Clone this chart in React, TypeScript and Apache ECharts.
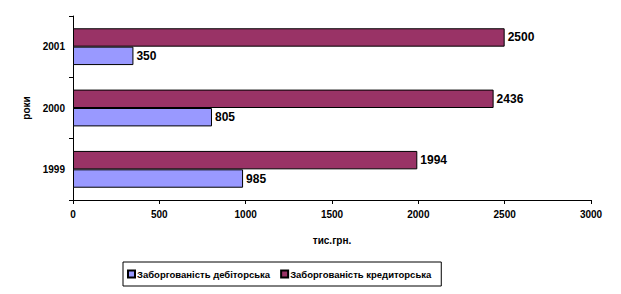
import React, { useEffect, useRef } from "react";
import * as echarts from "echarts";

const categories = ["1999", "2000", "2001"];
const debtReceivable = [985, 805, 350];
const debtPayable = [1994, 2436, 2500];
const seriesNames = ["Заборгованість дебіторська", "Заборгованість кредиторська"];
const xTicks = { min: 0, max: 3000, interval: 500 };

export default function App() {
  const ref = useRef<HTMLDivElement>(null);
  useEffect(() => {
    if (!ref.current) return;
    const chart = echarts.init(ref.current, null, { renderer: "svg" });
    const font = "'Liberation Sans', Arial, sans-serif";
    const label = {
      show: true,
      position: "right" as const,
      distance: 3,
      color: "#000",
      fontWeight: "bold" as const,
      fontSize: 12,
      fontFamily: font,
    };
    chart.setOption({
      animation: false,
      backgroundColor: "#fff",
      textStyle: { fontFamily: font },
      grid: { left: 73, right: 30, top: 16, bottom: 94, containLabel: false },
      xAxis: {
        type: "value",
        min: xTicks.min,
        max: xTicks.max,
        interval: xTicks.interval,
        name: "тис.грн.",
        nameLocation: "middle",
        nameGap: 35,
        nameTextStyle: { color: "#000", fontWeight: "bold", fontSize: 10, fontFamily: font },
        axisLine: { show: true, lineStyle: { color: "#000", width: 1 } },
        axisTick: { show: true, length: 4, inside: false, lineStyle: { color: "#000" } },
        axisLabel: {
          color: "#000",
          fontWeight: "bold",
          fontSize: 10,
          margin: 9,
          fontFamily: font,
          formatter: (v: number) => String(v),
        },
        splitLine: { show: false },
      },
      yAxis: {
        type: "category",
        data: categories,
        name: "роки",
        nameLocation: "middle",
        nameGap: 40,
        nameRotate: 90,
        nameTextStyle: { color: "#000", fontWeight: "bold", fontSize: 10, fontFamily: font },
        axisLine: { show: true, lineStyle: { color: "#000", width: 1 } },
        axisTick: { show: true, length: 4, inside: false, lineStyle: { color: "#000" } },
        axisLabel: { color: "#000", fontWeight: "bold", fontSize: 10, margin: 8, fontFamily: font },
        splitLine: { show: false },
      },
      legend: {
        show: true,
        left: 123,
        top: 262,
        padding: [7, 10, 7, 4],
        itemGap: 10,
        itemWidth: 7,
        itemHeight: 7,
        borderColor: "#000",
        borderWidth: 1,
        icon: "rect",
        textStyle: { color: "#000", fontWeight: "bold", fontSize: 9.5, fontFamily: font, padding: [0, 0, 0, -3] },
        data: seriesNames,
      },
      series: [
        {
          name: seriesNames[1],
          type: "bar",
          data: debtPayable,
          barCategoryGap: "40%",
          barGap: "0%",
          itemStyle: { color: "#993366", borderColor: "#000", borderWidth: 1 },
          label,
        },
        {
          name: seriesNames[0],
          type: "bar",
          data: debtReceivable,
          barCategoryGap: "40%",
          barGap: "0%",
          itemStyle: { color: "#9999FF", borderColor: "#000", borderWidth: 1 },
          label,
        },
      ],
    });
    return () => chart.dispose();
  }, []);
  return (
    <div
      ref={ref}
      style={{ position: "fixed", left: 0, top: 0, width: 621, height: 294, background: "#fff" }}
    />
  );
}
